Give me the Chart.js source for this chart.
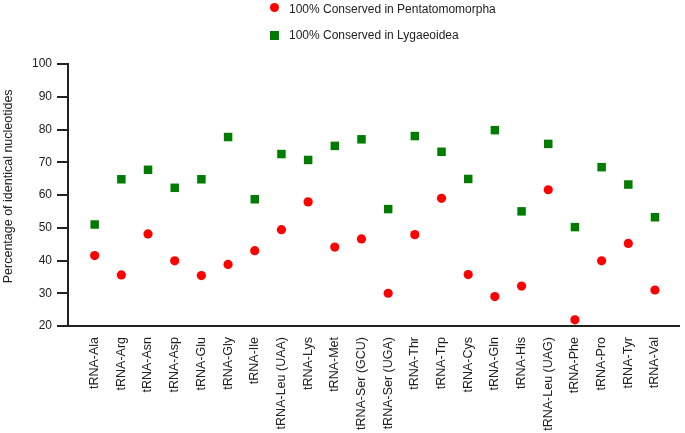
<!DOCTYPE html>
<html>
<head>
<meta charset="utf-8">
<script src="https://cdn.jsdelivr.net/npm/chart.js@4.4.1/dist/chart.umd.min.js"></script>
<style>
  body { margin: 0; background: #fff; }
  #wrap { position: relative; width: 685px; height: 433px; }
  .key { position: absolute; font: 12px "Liberation Sans", Arial, sans-serif; color: #222; line-height: 14px; white-space: nowrap; }
  .dot { position: absolute; width: 9px; height: 9px; }
</style>
</head>
<body>
<div id="wrap">
  <canvas id="scatter" width="685" height="433"></canvas>
  <div class="dot" style="left:270px;top:3px;border-radius:50%;background:#ff0000"></div>
  <div class="key" style="left:289px;top:2px">100% Conserved in Pentatomomorpha</div>
  <div class="dot" style="left:270px;top:31px;background:#007d00"></div>
  <div class="key" style="left:289px;top:28px">100% Conserved in Lygaeoidea</div>
</div>
<script>
const categories = ['tRNA-Ala', 'tRNA-Arg', 'tRNA-Asn', 'tRNA-Asp', 'tRNA-Glu', 'tRNA-Gly', 'tRNA-Ile',
  'tRNA-Leu (UAA)', 'tRNA-Lys', 'tRNA-Met', 'tRNA-Ser (GCU)', 'tRNA-Ser (UGA)', 'tRNA-Thr', 'tRNA-Trp',
  'tRNA-Cys', 'tRNA-Gln', 'tRNA-His', 'tRNA-Leu (UAG)', 'tRNA-Phe', 'tRNA-Pro', 'tRNA-Tyr', 'tRNA-Val'];

const pentatomomorpha = [41.5, 35.6, 48.1, 39.9, 35.4, 38.8, 43.0, 49.4, 57.9, 44.1, 46.6,
  30.0, 47.9, 59.0, 35.7, 29.0, 32.2, 61.6, 21.9, 39.9, 45.2, 31.0];

const lygaeoidea = [51.0, 64.8, 67.7, 62.2, 64.8, 77.7, 58.7, 72.5, 70.7, 75.0, 77.0,
  55.7, 78.0, 73.2, 64.9, 79.8, 55.0, 75.6, 50.2, 68.5, 63.2, 53.2];

const yTicks = [20, 30, 40, 50, 60, 70, 80, 90, 100];

const family = '"Liberation Sans", Arial, sans-serif';

function toPoints(values) {
  return values.map((v, i) => ({ x: i + 1, y: v }));
}

new Chart(document.getElementById('scatter'), {
  type: 'scatter',
  data: {
    datasets: [{
      label: '100% Conserved in Pentatomomorpha',
      data: toPoints(pentatomomorpha),
      pointStyle: 'circle',
      pointRadius: 4.6,
      backgroundColor: '#ff0000',
      borderWidth: 0
    }, {
      label: '100% Conserved in Lygaeoidea',
      data: toPoints(lygaeoidea),
      pointStyle: 'rect',
      pointRadius: 6,
      backgroundColor: '#007d00',
      borderWidth: 0
    }]
  },
  options: {
    responsive: false,
    animation: false,
    layout: { padding: { top: 64, right: 2, left: 0, bottom: 0 } },
    plugins: {
      legend: { display: false },
      tooltip: { enabled: false }
    },
    scales: {
      x: {
        type: 'linear',
        min: 0,
        max: 22.9,
        afterBuildTicks: s => { s.ticks = categories.map((c, i) => ({ value: i + 1 })); },
        afterFit: s => { s.height = 107; },
        ticks: {
          autoSkip: false,
          minRotation: 90,
          maxRotation: 90,
          padding: 11,
          color: '#222',
          font: { family, size: 12.5 },
          callback: v => categories[Math.round(v) - 1]
        },
        grid: { drawOnChartArea: false, drawTicks: false },
        border: { color: '#222', width: 2 }
      },
      y: {
        min: 20,
        max: 100,
        afterBuildTicks: s => { s.ticks = yTicks.map(v => ({ value: v })); },
        afterFit: s => { s.width = 68; },
        ticks: { color: '#222', font: { family, size: 12 }, padding: 5 },
        grid: { drawOnChartArea: false, drawTicks: true, tickLength: 11, color: '#222', lineWidth: 2 },
        border: { color: '#222', width: 2 },
        title: {
          display: true,
          // leading spaces nudge the rotated title up a little, as in the original
          text: '     Percentage of identical nucleotides',
          color: '#222',
          font: { family, size: 12.5 },
          padding: { top: 1, bottom: 0 }
        }
      }
    }
  }
});
</script>
</body>
</html>
